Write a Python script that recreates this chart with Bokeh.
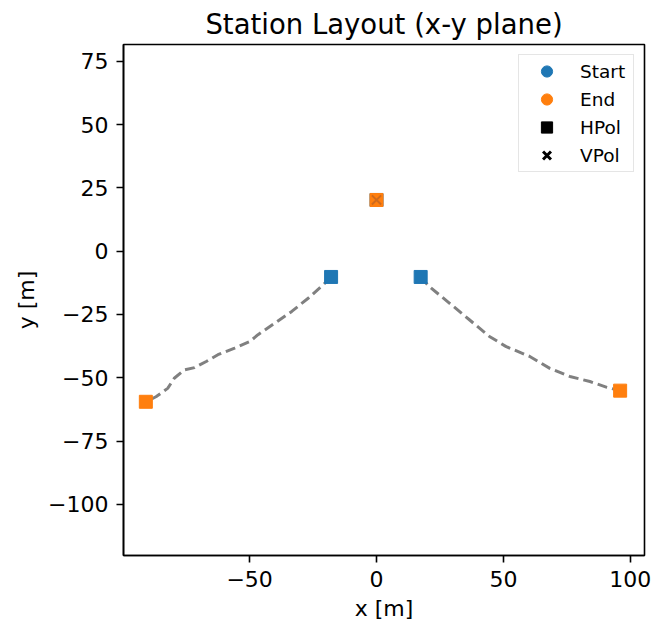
from bokeh.plotting import figure
from bokeh.models import (Range1d, FixedTicker, CustomJSTickFormatter, Legend,
                          LegendItem)
from bokeh.embed import file_html
from bokeh.resources import INLINE

# ---- data ----
left_path_x = [-17.9, -20.9, -26.8, -33.4, -40.0, -46.7, -49.9, -55.9, -62.5,
               -67.1, -71.7, -75.7, -79.7, -82.3, -86.9, -90.9]
left_path_y = [-10.2, -13.2, -18.5, -23.8, -28.4, -33.0, -35.7, -38.3, -40.9,
               -43.6, -46.0, -46.9, -50.2, -54.2, -57.5, -59.5]
right_path_x = [17.4, 20.7, 28.7, 36.6, 44.5, 51.1, 60.4, 68.3, 76.2, 84.1,
                90.8, 96.0]
right_path_y = [-10.2, -13.9, -20.5, -27.1, -33.7, -37.7, -41.6, -46.3, -49.5,
                -51.5, -53.8, -55.1]

start_x = [-17.9, 17.4, 0.0]
start_y = [-10.2, -10.2, 20.2]
end_x = [-90.9, 96.0, 0.0]
end_y = [-59.5, -55.1, 20.2]
vpol_x = [0.0]
vpol_y = [20.2]

x_ticks = [-50, 0, 50, 100]
y_ticks = [-100, -75, -50, -25, 0, 25, 50, 75]

BLUE = "#1f77b4"
ORANGE = "#ff7f0e"
FONT = "DejaVu Sans"
NAN = float("nan")

p = figure(width=655, height=628,
           x_range=Range1d(-99.7, 105.6), y_range=Range1d(-120.2, 81.6),
           output_backend="svg", toolbar_location=None,
           title="Station Layout (x-y plane)",
           min_border_left=123, min_border_right=11,
           min_border_top=43, min_border_bottom=73)

p.xgrid.visible = False
p.ygrid.visible = False
p.outline_line_color = "black"
p.outline_line_width = 1.6
p.outline_line_alpha = 1.0
p.background_fill_color = "white"
p.border_fill_color = "white"

p.title.text_font = FONT
p.title.text_font_size = "27.5px"
p.title.text_font_style = "normal"
p.title.align = "center"
p.title.text_color = "black"

fmt = CustomJSTickFormatter(code="return String(tick).replace('-', '\u2212');")
for ax, ticks, lab in ((p.xaxis[0], x_ticks, "x [m]"), (p.yaxis[0], y_ticks, "y [m]")):
    ax.ticker = FixedTicker(ticks=ticks)
    ax.formatter = fmt
    ax.axis_label = lab
    ax.axis_label_text_font = FONT
    ax.axis_label_text_font_style = "normal"
    ax.axis_label_text_font_size = "22px"
    ax.axis_label_text_color = "black"
    ax.major_label_text_font = FONT
    ax.major_label_text_font_size = "22px"
    ax.major_label_text_color = "black"
    ax.major_tick_out = 7
    ax.major_tick_in = 0
    ax.minor_tick_out = 0
    ax.minor_tick_in = 0
    ax.major_tick_line_width = 1.6
    ax.major_tick_line_color = "black"
    ax.axis_line_width = 1.6
    ax.axis_line_color = "black"
    ax.major_label_standoff = 8
    ax.axis_label_standoff = 6

# paths
p.line(left_path_x, left_path_y, line_color="#808080", line_width=3,
       line_dash="10 5")
p.line(right_path_x, right_path_y, line_color="#808080", line_width=3,
       line_dash="10 5")

# markers
p.scatter(start_x, start_y, marker="square", size=13, fill_color=BLUE,
          line_color=BLUE, line_width=1)
p.scatter(end_x, end_y, marker="square", size=13, fill_color=ORANGE,
          line_color=ORANGE, line_width=1)
p.scatter(vpol_x, vpol_y, marker="x", size=13, line_color="#cf6a1c",
          line_width=2)

# legend proxies (not visible in the plot area)
r_start = p.scatter(x=[NAN], y=[NAN], marker="circle", fill_color=BLUE, line_color=BLUE)
r_end = p.scatter(x=[NAN], y=[NAN], marker="circle", fill_color=ORANGE, line_color=ORANGE)
r_h = p.scatter(x=[NAN], y=[NAN], marker="square", fill_color="black", line_color="black")
r_v = p.scatter(x=[NAN], y=[NAN], marker="x", line_color="black", line_width=3)

legend = Legend(items=[LegendItem(label="Start", renderers=[r_start]),
                       LegendItem(label="End", renderers=[r_end]),
                       LegendItem(label="HPol", renderers=[r_h]),
                       LegendItem(label="VPol", renderers=[r_v])],
                location="top_right", margin=10, padding=2,
                glyph_width=51, glyph_height=28, spacing=0,
                label_standoff=8, label_width=51, label_height=28,
                label_text_font=FONT, label_text_font_size="18.5px",
                label_text_color="black",
                border_line_color="#cccccc", border_line_width=1.5,
                background_fill_color="white", background_fill_alpha=0.8)
p.add_layout(legend)

open("out.html", "w").write(file_html(p, INLINE))
